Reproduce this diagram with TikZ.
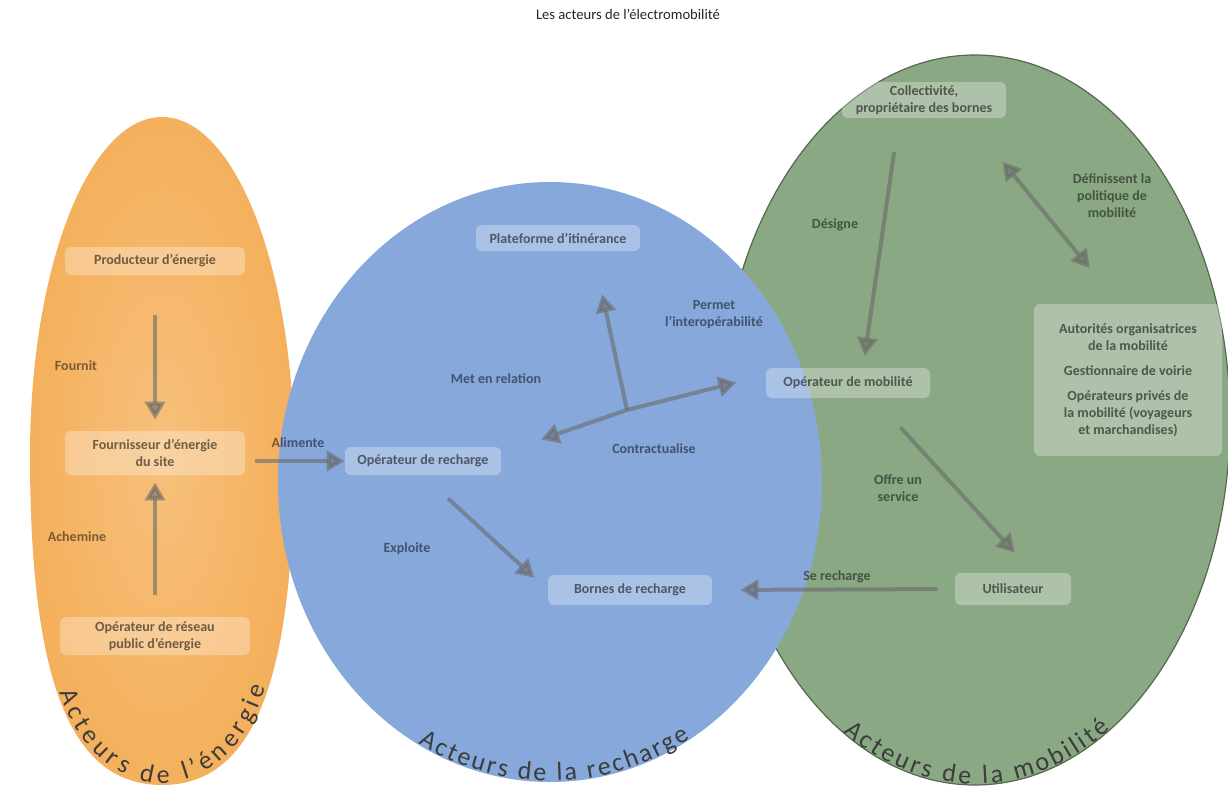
\documentclass[tikz,border=0pt]{standalone}
\usepackage{fontspec}
\setmainfont{Carlito}
\usepackage{tikz}
\usetikzlibrary{arrows.meta, calc, decorations.text}
\definecolor{orangefill}{HTML}{F4B05C}
\definecolor{orangelight}{HTML}{F7C07C}
\definecolor{bluefill}{HTML}{86A8DB}
\definecolor{greenfill}{HTML}{8AA883}
\definecolor{greenline}{HTML}{55684F}
\definecolor{arrowgray}{HTML}{6A6A6A}
\definecolor{curvetext}{HTML}{3C3C3C}
\newcommand{\curvefont}{\fontsize{13}{13}\selectfont\color{curvetext}}
\tikzset{
  actor/.style={fill=white, fill opacity=.3, text=black, text opacity=.55, rounded corners=3pt, align=center, inner sep=1pt, font=\fontsize{7}{8.5}\selectfont\bfseries},
  rel/.style={text=black, text opacity=.5, align=center, font=\fontsize{7}{8.5}\selectfont\bfseries},
  flow/.style={draw=arrowgray, opacity=.6, line width=2pt, -{Triangle[length=9pt, width=10pt]}},
  curved/.style={decorate, decoration={text along path, text align={fit to path}, text={|\curvefont|#1}}}
}
\begin{document}
\begin{tikzpicture}[x=0.5pt, y=-0.5pt]
  \useasboundingbox (0,0) rectangle (1228,787);
  \shade[inner color=orangelight, outer color=orangefill] (30,455) .. controls (30,268) and (89,117) .. (162,117) .. controls (235,117) and (294,268) .. (294,455) .. controls (294,680) and (254,785) .. (162,785) .. controls (70,785) and (30,680) .. cycle;
  \filldraw[fill=greenfill, draw=greenline, line width=.6pt] (975,420) ellipse [x radius=255, y radius=365];
  \fill[bluefill] (550,482) ellipse [x radius=272, y radius=300];
  \path[curved={Acteurs de l’énergie}] (162,630) ++(156:112 and 153) arc[start angle=156, end angle=22, x radius=112, y radius=153];
  \path[curved={Acteurs de la recharge}] (550,482) ++(119:272 and 299) arc[start angle=119, end angle=59, x radius=272, y radius=299];
  \path[curved={Acteurs de la mobilité}] (975,420) ++(121:255 and 364) arc[start angle=121, end angle=58, x radius=255, y radius=364];

  \node[font=\fontsize{7.3}{9}\selectfont, text=black!85] (title) at (628,14) {Les acteurs de l’électromobilité};

  \node[actor, minimum width=90pt, minimum height=14pt] (prod) at (155,261) {Producteur d’énergie};
  \node[actor, minimum width=90pt, minimum height=22pt] (fourn) at (155,453) {Fournisseur d’énergie\\du site};
  \node[actor, minimum width=95pt, minimum height=19pt] (reseau) at (155,636) {Opérateur de réseau\\public d’énergie};
  \node[actor, minimum width=82pt, minimum height=13pt] (plat) at (558,238) {Plateforme d’itinérance};
  \node[actor, minimum width=78pt, minimum height=14pt] (oprech) at (423,461) {Opérateur de recharge};
  \node[actor, minimum width=82pt, minimum height=15pt] (bornes) at (630,590) {Bornes de recharge};
  \node[actor, minimum width=82pt, minimum height=18pt] (coll) at (924,100) {Collectivité,\\propriétaire des bornes};
  \node[actor, minimum width=82pt, minimum height=15pt] (opmob) at (848,383) {Opérateur de mobilité};
  \node[actor, minimum width=94pt, minimum height=76pt] (auto) at (1128,380) {Autorités organisatrices\\de la mobilité\\[4pt]Gestionnaire de voirie\\[4pt]Opérateurs privés de\\la mobilité (voyageurs\\et marchandises)};
  \node[actor, minimum width=58pt, minimum height=16pt] (util) at (1013,589) {Utilisateur};
  \coordinate (hub) at (627,410);

  \node[rel] (fournit) at (76,366) {Fournit};
  \node[rel] (achemine) at (77,537) {Achemine};
  \node[rel] (alimente) at (298,443) {Alimente};
  \node[rel] (exploite) at (407,549) {Exploite};
  \node[rel] (relation) at (496,379) {Met en relation};
  \node[rel] (interop) at (714,315) {Permet\\l’interopérabilité};
  \node[rel] (contrat) at (654,449) {Contractualise};
  \node[rel] (designe) at (835,225) {Désigne};
  \node[rel] (politique) at (1112,196) {Définissent la\\politique de\\mobilité};
  \node[rel] (offre) at (898,488) {Offre un\\service};
  \node[rel] (serecharge) at (837,577) {Se recharge};

  \draw[flow, shorten <=20pt, shorten >=5.5pt] (prod.south) -- (fourn.north);
  \draw[flow, shorten <=11pt, shorten >=3.5pt] (reseau.north) -- (fourn.south);
  \draw[flow, shorten <=5pt] (fourn.east |- oprech.west) -- (oprech.west);
  \draw[flow, shorten <=17pt, shorten >=9pt] (oprech.south) -- (bornes.west);
  \draw[flow, shorten >=22pt] (hub) -- ([xshift=17.5pt]plat.south);
  \draw[flow, shorten >=21pt] (hub) -- ([yshift=4pt]oprech.east);
  \draw[flow, shorten >=15pt] (hub) -- ([yshift=4pt]opmob.west);
  \draw[flow, shorten <=17pt, shorten >=6pt] ([xshift=-12.5pt]coll.south) -- ([xshift=7.5pt]opmob.north);
  \draw[flow, {Triangle[length=9pt, width=10pt]}-{Triangle[length=9pt, width=10pt]}, shorten <=28pt, shorten >=23pt] ([xshift=21.5pt]coll.south) -- ([xshift=-4.5pt]auto.north);
  \draw[flow, shorten <=19.5pt, shorten >=13.5pt] ([xshift=13pt]opmob.south) -- ([xshift=10pt]util.north);
  \draw[flow, shorten <=8.5pt, shorten >=14pt] (util.west) -- (bornes.east);
\end{tikzpicture}
\end{document}
